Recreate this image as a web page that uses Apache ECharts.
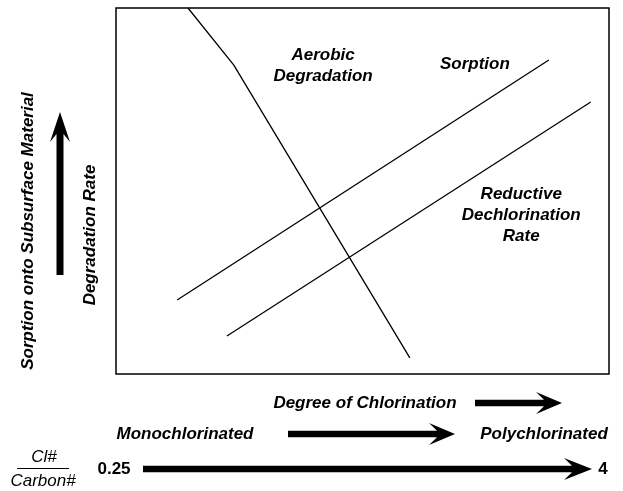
<!DOCTYPE html>
<html>
<head>
<meta charset="utf-8">
<script src="https://cdn.jsdelivr.net/npm/echarts@6/dist/echarts.min.js"></script>
<style>
html, body { margin: 0; padding: 0; background: #fff; }
#chart { width: 623px; height: 491px; }
</style>
</head>
<body>
<div id="chart"></div>
<script>
// line data (relative units 0-100 inside the frame)
var aerobicX = [14.6, 23.9, 59.6];
var aerobicY = [100, 84.4, 4.4];
var sorptionX = [12.4, 87.8];
var sorptionY = [20.2, 85.8];
var reductiveX = [22.5, 96.3];
var reductiveY = [10.4, 74.3];

// in-plot labels
var labelText = ['Aerobic\nDegradation', 'Sorption', 'Reductive\nDechlorination\nRate'];
var labelX = [42.0, 72.8, 82.2];
var labelY = [84.2, 84.7, 43.4];

var myChart = echarts.init(document.getElementById('chart'));

function pairs(xs, ys) {
	var out = [];
	for (var i = 0; i < xs.length; i++) {
		out.push([xs[i], ys[i]]);
	}
	return out;
}

// thick arrow polygons
function arrowH(x0, x1, y, w, L, h, n) {
	return [[x0, y - w], [x1 - L + n, y - w], [x1 - L, y - h], [x1, y], [x1 - L, y + h], [x1 - L + n, y + w], [x0, y + w]];
}
function arrowUp(x, y0, y1, w, L, h, n) {
	return [[x - w, y0], [x - w, y1 + L - n], [x - h, y1 + L], [x, y1], [x + h, y1 + L], [x + w, y1 + L - n], [x + w, y0]];
}

var font = 'Liberation Sans, Arial, sans-serif';
function txt(x, y, s, style, rot) {
	return {
		type: 'text',
		x: x, y: y,
		rotation: rot || 0,
		style: {
			text: s,
			font: style + ' 17px ' + font,
			fill: '#000',
			align: 'center',
			verticalAlign: 'middle'
		}
	};
}

var labelData = [];
for (var i = 0; i < labelText.length; i++) {
	labelData.push({ value: [labelX[i], labelY[i]], label: { formatter: labelText[i] } });
}

var lineStyle = { color: '#000', width: 1.3 };

var option = {
	animation: false,
	grid: {
		left: 116, top: 8, width: 493, height: 366,
		show: true, borderColor: '#000', borderWidth: 1.5
	},
	xAxis: { type: 'value', min: 0, max: 100, show: false },
	yAxis: { type: 'value', min: 0, max: 100, show: false },
	series: [
		{ type: 'line', data: pairs(aerobicX, aerobicY), symbol: 'none', lineStyle: lineStyle },
		{ type: 'line', data: pairs(sorptionX, sorptionY), symbol: 'none', lineStyle: lineStyle },
		{ type: 'line', data: pairs(reductiveX, reductiveY), symbol: 'none', lineStyle: lineStyle },
		{
			type: 'scatter', symbolSize: 0, data: labelData,
			itemStyle: { opacity: 1 },
			label: {
				show: true, position: 'inside', color: '#000',
				textBorderWidth: 0,
				fontFamily: font, fontStyle: 'italic', fontWeight: 'bold',
				fontSize: 17, lineHeight: 21, align: 'center'
			}
		}
	],
	graphic: [
		txt(28, 231, 'Sorption onto Subsurface Material', 'italic bold', Math.PI / 2),
		txt(90, 235, 'Degradation Rate', 'italic bold', Math.PI / 2),
		{ type: 'polygon', shape: { points: arrowUp(60, 275, 112, 3.5, 30, 10, 8) }, style: { fill: '#000' } },
		txt(365, 403, 'Degree of Chlorination', 'italic bold'),
		{ type: 'polygon', shape: { points: arrowH(475, 562, 403, 3.3, 26, 11, 8) }, style: { fill: '#000' } },
		txt(185, 434, 'Monochlorinated', 'italic bold'),
		{ type: 'polygon', shape: { points: arrowH(288, 455, 434, 3.3, 26, 11, 8) }, style: { fill: '#000' } },
		txt(544, 434, 'Polychlorinated', 'italic bold'),
		txt(114, 469, '0.25', 'bold'),
		{ type: 'polygon', shape: { points: arrowH(143, 592, 469, 3.3, 28, 11, 8) }, style: { fill: '#000' } },
		txt(603, 469, '4', 'bold'),
		txt(44, 457, 'Cl#', 'italic'),
		{ type: 'line', shape: { x1: 17, y1: 468.5, x2: 69, y2: 468.5 }, style: { stroke: '#000', lineWidth: 1.2 } },
		txt(43, 481, 'Carbon#', 'italic')
	]
};

myChart.setOption(option);
</script>
</body>
</html>
